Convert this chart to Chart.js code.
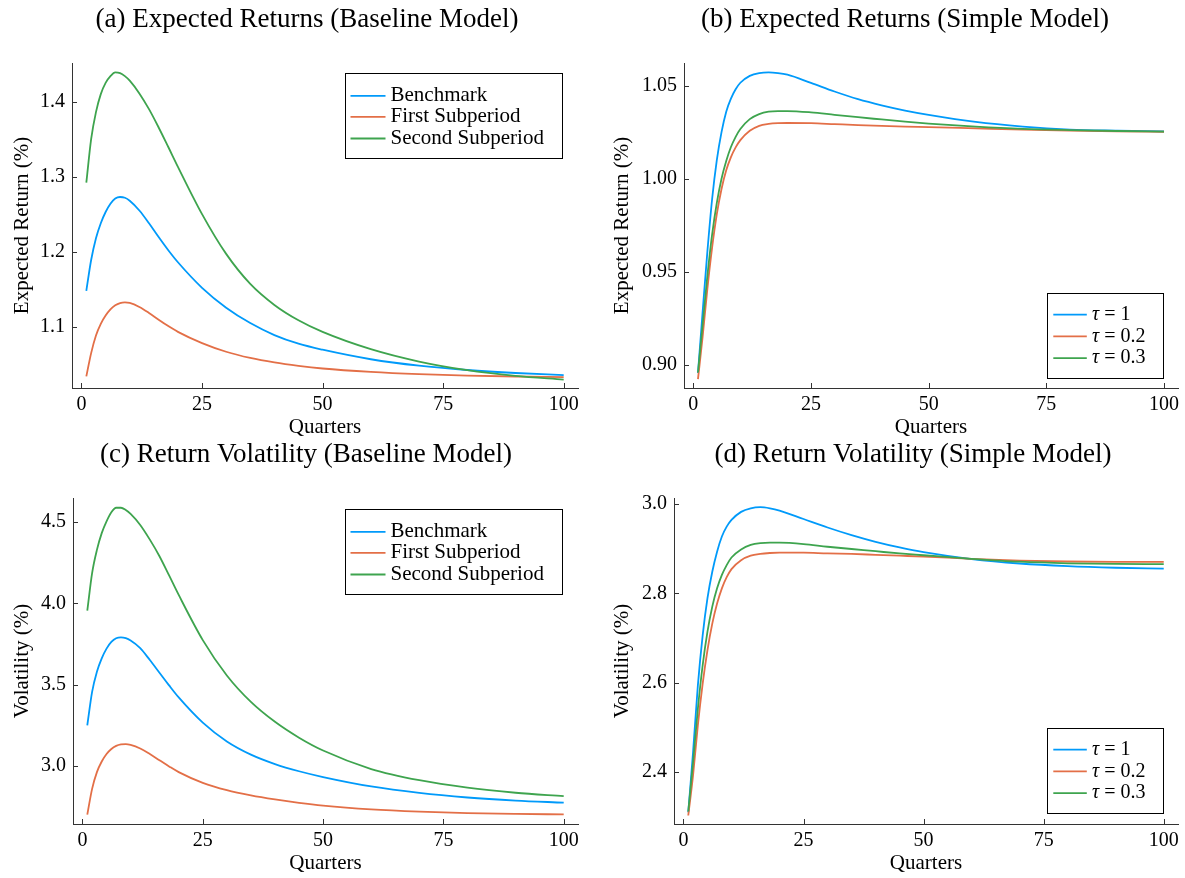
<!DOCTYPE html>
<html><head><meta charset="utf-8">
<script src="https://cdn.jsdelivr.net/npm/chart.js@4.4.1/dist/chart.umd.min.js"></script>
<style>
html,body{margin:0;padding:0;background:#fff;}
#wrap{position:relative;width:1185px;height:878px;overflow:hidden;background:#fff;}
canvas{position:absolute;}
</style></head><body>
<div id="wrap">
<canvas id="cA" style="left:0px;top:0px" width="592" height="440"></canvas>
<canvas id="cB" style="left:592px;top:0px" width="593" height="440"></canvas>
<canvas id="cC" style="left:0px;top:440px" width="592" height="438"></canvas>
<canvas id="cD" style="left:592px;top:440px" width="593" height="438"></canvas>
</div>
<script>
// ---------- data ----------
const quarters = [1,2,3,4,5,6,7,8,9,10,12,14,16,18,20,25,30,35,40,45,50,60,70,80,90,100];
const xTicks = [0,25,50,75,100];

const baseLabels = ['Benchmark','First Subperiod','Second Subperiod'];
const tauValues = ['1','0.2','0.3'];

// (a) Expected returns, baseline model
const benchA  = [1.148,1.189,1.218,1.238,1.253,1.264,1.271,1.273,1.272,1.268,1.255,1.238,1.2196,1.202,1.186,1.152,1.1255,1.105,1.089,1.0775,1.0695,1.0568,1.0482,1.0425,1.0385,1.0357];
const firstA  = [1.034,1.065,1.0885,1.104,1.115,1.1232,1.1287,1.1317,1.1325,1.1318,1.1265,1.1185,1.1095,1.101,1.0933,1.0783,1.0668,1.0585,1.0525,1.048,1.0445,1.040,1.037,1.035,1.0338,1.033];
const secondA = [1.292,1.350,1.386,1.410,1.425,1.434,1.439,1.438,1.434,1.428,1.411,1.390,1.3656,1.3396,1.3132,1.2502,1.1972,1.1572,1.1292,1.1087,1.0932,1.0702,1.0537,1.0422,1.0347,1.0297];
const yTicksA = [1.1,1.2,1.3,1.4];
const yLabelsA = ['1.1','1.2','1.3','1.4'];

// (b) Expected returns, simple model
const tau1B  = [0.8957,0.929,0.961,0.989,1.010,1.025,1.036,1.043,1.048,1.0515,1.0552,1.0567,1.0571,1.0567,1.0558,1.0514,1.0468,1.0427,1.0394,1.0366,1.0343,1.0305,1.0280,1.0264,1.0258,1.0254];
const tau02B = [0.8925,0.9155,0.941,0.963,0.981,0.9945,1.0045,1.0116,1.0168,1.0207,1.0257,1.0284,1.0294,1.0298,1.0299,1.0298,1.0293,1.0288,1.0284,1.0280,1.0277,1.0270,1.0263,1.0258,1.0254,1.0252];
const tau03B = [0.896,0.922,0.948,0.970,0.987,1.000,1.0095,1.017,1.0225,1.0267,1.0320,1.0347,1.0360,1.0363,1.0363,1.0356,1.0343,1.0330,1.0318,1.0306,1.0296,1.0280,1.0268,1.0261,1.0256,1.0253];
const yTicksB = [0.90,0.95,1.00,1.05];
const yLabelsB = ['0.90','0.95','1.00','1.05'];

// (c) Return volatility, baseline model
const benchC  = [3.251,3.456,3.580,3.662,3.722,3.763,3.786,3.791,3.786,3.772,3.725,3.652,3.574,3.496,3.422,3.267,3.1515,3.0705,3.0125,2.9683,2.9328,2.875,2.835,2.807,2.788,2.775];
const firstC  = [2.702,2.860,2.963,3.028,3.074,3.105,3.124,3.133,3.135,3.130,3.108,3.074,3.036,2.998,2.963,2.897,2.852,2.820,2.795,2.774,2.757,2.734,2.720,2.711,2.706,2.703];
const secondC = [3.955,4.186,4.329,4.432,4.504,4.560,4.588,4.588,4.574,4.550,4.482,4.392,4.290,4.172,4.052,3.7745,3.557,3.3945,3.272,3.1745,3.0955,2.982,2.913,2.867,2.836,2.815];
const yTicksC = [3.0,3.5,4.0,4.5];
const yLabelsC = ['3.0','3.5','4.0','4.5'];

// (d) Return volatility, simple model
const tau1D  = [2.310,2.445,2.594,2.706,2.789,2.848,2.893,2.927,2.949,2.964,2.982,2.990,2.9925,2.990,2.985,2.966,2.947,2.930,2.915,2.9025,2.892,2.8765,2.8665,2.8605,2.857,2.855];
const tau02D = [2.303,2.393,2.505,2.598,2.673,2.732,2.777,2.811,2.836,2.854,2.874,2.884,2.888,2.890,2.891,2.891,2.889,2.888,2.886,2.884,2.882,2.877,2.873,2.871,2.870,2.870];
const tau03D = [2.312,2.422,2.542,2.639,2.714,2.770,2.811,2.841,2.863,2.880,2.898,2.908,2.912,2.913,2.913,2.910,2.904,2.899,2.894,2.889,2.885,2.877,2.8705,2.867,2.8655,2.865];
const yTicksD = [2.4,2.6,2.8,3.0];
const yLabelsD = ['2.4','2.6','2.8','3.0'];

// ---------- style ----------
const COLORS = ['#009AFA','#E36F47','#3EA44E'];
const FAM = '"Liberation Serif","Times New Roman",serif';
const AXIS = '#333333';

const decor = {
  id: 'decor',
  afterDatasetsDraw(chart, args, o) {
    const ctx = chart.ctx, ca = chart.chartArea;
    const xs = chart.scales.x, ys = chart.scales.y;
    ctx.save();
    ctx.strokeStyle = AXIS; ctx.lineWidth = 1;
    ctx.beginPath();
    xs.ticks.forEach(t => {
      const px = Math.round(xs.getPixelForValue(t.value)) + 0.5;
      ctx.moveTo(px, ca.bottom); ctx.lineTo(px, ca.bottom - 5);
    });
    ys.ticks.forEach(t => {
      const py = Math.round(ys.getPixelForValue(t.value)) + 0.5;
      ctx.moveTo(ca.left, py); ctx.lineTo(ca.left + 5, py);
    });
    ctx.stroke();
    ctx.restore();
  },
  afterDraw(chart, args, o) {
    const ctx = chart.ctx, ca = chart.chartArea;
    ctx.save();
    ctx.fillStyle = '#000';
    ctx.font = '27px ' + FAM;
    ctx.textAlign = 'center'; ctx.textBaseline = 'middle';
    ctx.fillText(o.title, o.titleX, o.titleY);
    const L = o.legend;
    const bx = Math.round(ca.right - L.right - L.w) + 0.5;
    const by = Math.round(L.top != null ? ca.top + L.top : ca.bottom - L.bottom - L.h) + 0.5;
    ctx.fillStyle = '#fff';
    ctx.fillRect(bx, by, L.w, L.h);
    ctx.strokeStyle = '#000'; ctx.lineWidth = 1;
    ctx.strokeRect(bx, by, L.w, L.h);
    chart.data.datasets.forEach((ds, i) => {
      const y = by + L.rows[i];
      ctx.strokeStyle = ds.borderColor; ctx.lineWidth = 1.8;
      ctx.beginPath(); ctx.moveTo(bx + L.l0, y); ctx.lineTo(bx + L.l1, y); ctx.stroke();
      ctx.fillStyle = '#000'; ctx.textAlign = 'left'; ctx.textBaseline = 'middle';
      let x = bx + L.tx;
      if (o.tau) {
        ctx.font = 'italic 20px ' + FAM;
        ctx.fillText('τ', x, y);
        x += ctx.measureText('τ').width;
        ctx.font = '20px ' + FAM;
        ctx.fillText(' = ' + tauValues[i], x, y);
      } else {
        ctx.font = '21px ' + FAM;
        ctx.fillText(ds.label, x, y);
      }
    });
    ctx.restore();
  }
};

function makeChart(id, p) {
  const datasets = p.series.map((vals, i) => ({
    label: p.labels[i],
    data: quarters.map((q, j) => ({x: q, y: vals[j]})),
    borderColor: COLORS[i],
    backgroundColor: COLORS[i],
    borderWidth: 1.8,
    pointRadius: 0,
    fill: false,
    cubicInterpolationMode: 'monotone',
    order: 3 - i
  }));
  return new Chart(document.getElementById(id), {
    type: 'line',
    data: {datasets},
    options: {
      responsive: false, animation: false, devicePixelRatio: 1,
      layout: {padding: {left: 0, right: p.padRight, top: p.padTop, bottom: 0}},
      plugins: {
        legend: {display: false}, tooltip: {enabled: false}, title: {display: false},
        decor: {title: p.title, titleX: p.titleX, titleY: p.titleY, legend: p.legend, tau: p.tau}
      },
      scales: {
        x: {
          type: 'linear', min: -1.97, max: 102.97, bounds: 'data',
          afterBuildTicks: s => { s.ticks = xTicks.map(v => ({value: v})); },
          afterFit: s => { s.height = p.xHeight; },
          ticks: {font: {family: FAM, size: 20}, color: '#000', padding: 5, maxRotation: 0, autoSkip: false,
                  callback: (v, i) => String(xTicks[i])},
          grid: {display: false, drawTicks: false},
          border: {display: true, color: AXIS, width: 1},
          title: {display: true, text: 'Quarters', color: '#000', font: {family: FAM, size: 21},
                  padding: {top: 0, bottom: p.xTitlePad}}
        },
        y: {
          type: 'linear', min: p.yMin, max: p.yMax, bounds: 'data',
          afterBuildTicks: s => { s.ticks = p.yTicks.map(v => ({value: v})); },
          afterFit: s => { s.width = p.yWidth; },
          ticks: {font: {family: FAM, size: 20}, color: '#000', padding: 7, autoSkip: false,
                  callback: (v, i) => p.yLabels[i]},
          grid: {display: false, drawTicks: false},
          border: {display: true, color: AXIS, width: 1},
          title: {display: true, text: p.yTitle, color: '#000', font: {family: FAM, size: 21},
                  padding: {top: p.yTitlePad, bottom: 0}}
        }
      }
    },
    plugins: [decor]
  });
}

const legBase = {w: 217, h: 85, right: 15.7, rows: [22.4, 43.4, 65], l0: 5, l1: 40, tx: 45};
const legTau = {w: 116, h: 85, right: 15.2, rows: [21.2, 42.9, 64.6], l0: 5.8, l1: 39.3, tx: 44.6};

makeChart('cA', {
  series: [benchA, firstA, secondA], labels: baseLabels, tau: false,
  title: '(a) Expected Returns (Baseline Model)', titleX: 307, titleY: 20,
  padRight: 14, padTop: 63, xHeight: 52, xTitlePad: 0.4, yWidth: 72, yTitlePad: 9.4,
  yMin: 1.0185, yMax: 1.4515, yTicks: yTicksA, yLabels: yLabelsA, yTitle: 'Expected Return (%)',
  legend: Object.assign({}, legBase, {top: 10.3})
});
makeChart('cB', {
  series: [tau1B, tau02B, tau03B], labels: ['τ = 1','τ = 0.2','τ = 0.3'], tau: true,
  title: '(b) Expected Returns (Simple Model)', titleX: 313, titleY: 20,
  padRight: 7, padTop: 63, xHeight: 52, xTitlePad: 0.4, yWidth: 92, yTitlePad: 17.4,
  yMin: 0.8877, yMax: 1.0621, yTicks: yTicksB, yLabels: yLabelsB, yTitle: 'Expected Return (%)',
  legend: Object.assign({}, legTau, {bottom: 10.3})
});
makeChart('cC', {
  series: [benchC, firstC, secondC], labels: baseLabels, tau: false,
  title: '(c) Return Volatility (Baseline Model)', titleX: 306, titleY: 15,
  padRight: 14, padTop: 58, xHeight: 54, xTitlePad: 2.4, yWidth: 73, yTitlePad: 9.4,
  yMin: 2.644, yMax: 4.648, yTicks: yTicksC, yLabels: yLabelsC, yTitle: 'Volatility (%)',
  legend: Object.assign({}, legBase, {top: 11.3})
});
makeChart('cD', {
  series: [tau1D, tau02D, tau03D], labels: ['τ = 1','τ = 0.2','τ = 0.3'], tau: true,
  title: '(d) Return Volatility (Simple Model)', titleX: 321, titleY: 15,
  padRight: 7, padTop: 58, xHeight: 54, xTitlePad: 2.4, yWidth: 82, yTitlePad: 17.4,
  yMin: 2.284, yMax: 3.013, yTicks: yTicksD, yLabels: yLabelsD, yTitle: 'Volatility (%)',
  legend: Object.assign({}, legTau, {bottom: 11})
});
</script>
</body></html>
